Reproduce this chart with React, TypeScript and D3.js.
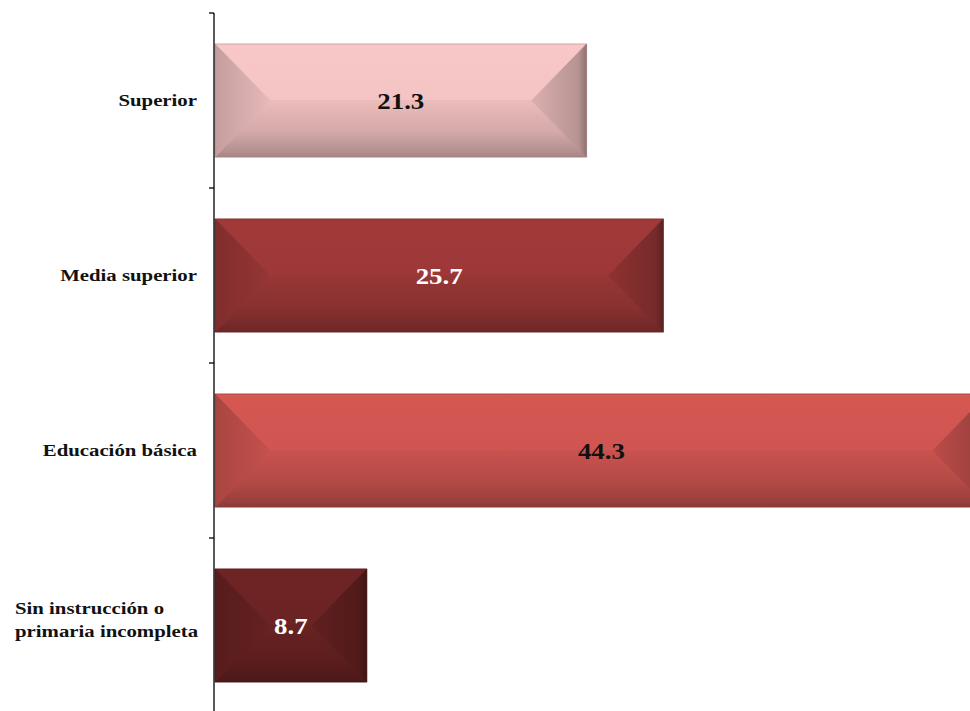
import React from "react";
import * as d3 from "d3";

const categories = [
  "Superior",
  "Media superior",
  "Educación básica",
  "Sin instrucción o primaria incompleta",
];
const categoryLines = [
  ["Superior"],
  ["Media superior"],
  ["Educación básica"],
  ["Sin instrucción o", "primaria incompleta"],
];
const values = [21.3, 25.7, 44.3, 8.7];

const barColors = ["#f4c3c3", "#9e3838", "#d05551", "#6c2323"];
const valueColors = ["#111111", "#ffffff", "#111111", "#ffffff"];

const W = 970;
const H = 711;
const FONT = "'Liberation Serif', 'Times New Roman', serif";
const SX = 1.3; // horizontal stretch of category text seen in the reference
const SXV = 1.12; // horizontal stretch of value text

export default function App() {
  const x = d3.scaleLinear().domain([0, 45]).range([215, 1000]);
  const y = d3
    .scaleBand<string>()
    .domain(categories)
    .range([13, 713])
    .paddingInner(0.354)
    .paddingOuter(0.177);
  const step = y.step();
  const axisX = 214;
  const tickYs = d3.range(categories.length + 1).map((i) => y.range()[0] + i * step);

  return (
    <svg
      width={W}
      height={H}
      style={{ position: "absolute", left: 0, top: 0, background: "#ffffff" }}
      fontFamily={FONT}
    >
      <defs>
        {categories.map((c, i) => {
          const base = d3.color(barColors[i])!;
          const dk = (k: number) => d3.color(barColors[i])!.darker(k).formatHex();
          return (
            <g key={c}>
              <linearGradient id={`top${i}`} x1="0" y1="0" x2="0" y2="1">
                <stop offset="0" stopColor={d3.color(barColors[i])!.brighter(0.05).formatHex()} />
                <stop offset="1" stopColor={base.formatHex()} />
              </linearGradient>
              <linearGradient id={`bot${i}`} x1="0" y1="0" x2="0" y2="1">
                <stop offset="0" stopColor={dk(0.1)} />
                <stop offset="0.55" stopColor={dk(0.4)} />
                <stop offset="0.9" stopColor={dk(0.85)} />
                <stop offset="1" stopColor={dk(1.1)} />
              </linearGradient>
              <linearGradient id={`left${i}`} x1="0" y1="0" x2="1" y2="0">
                <stop offset="0" stopColor={dk(0.6)} />
                <stop offset="1" stopColor={dk(0.15)} />
              </linearGradient>
              <linearGradient id={`right${i}`} x1="0" y1="0" x2="1" y2="0">
                <stop offset="0" stopColor={dk(0.3)} />
                <stop offset="0.85" stopColor={dk(0.8)} />
                <stop offset="1" stopColor={dk(1.5)} />
              </linearGradient>
            </g>
          );
        })}
      </defs>

      {categories.map((c, i) => {
        const x0 = x(0);
        const x1 = x(values[i]);
        const y0 = y(c)!;
        const y1 = y0 + y.bandwidth();
        const mid = (y0 + y1) / 2;
        const b = Math.min(55, (x1 - x0) / 2);
        const pts = (p: number[][]) => p.map((q) => q.join(",")).join(" ");
        const faces: [number[][], string][] = [
          [[[x0, y0], [x1, y0], [x1 - b, mid], [x0 + b, mid]], `url(#top${i})`],
          [[[x0 + b, mid], [x1 - b, mid], [x1, y1], [x0, y1]], `url(#bot${i})`],
          [[[x0, y0], [x0 + b, mid], [x0, y1]], `url(#left${i})`],
          [[[x1, y0], [x1 - b, mid], [x1, y1]], `url(#right${i})`],
        ];
        return (
          <g key={c}>
            <rect
              x={x0}
              y={y0}
              width={x1 - x0}
              height={y1 - y0}
              fill={d3.color(barColors[i])!.darker(0.25).formatHex()}
            />
            {faces.map(([p, f], k) => (
              <polygon key={k} points={pts(p)} fill={f} stroke={f} strokeWidth={0.6} strokeLinejoin="round" />
            ))}
            <rect
              x={x0}
              y={y0}
              width={x1 - x0}
              height={y1 - y0}
              fill="none"
              stroke={d3.color(barColors[i])!.darker(1.2).formatHex()}
              strokeOpacity={0.45}
              strokeWidth={1}
            />
            <text
              transform={`translate(${(x0 + x1) / 2},${mid + 8}) scale(${SXV},1)`}
              textAnchor="middle"
              fontWeight="bold"
              fontSize={24}
              fill={valueColors[i]}
            >
              {values[i].toFixed(1)}
            </text>
          </g>
        );
      })}

      {/* axis */}
      <line x1={axisX} x2={axisX} y1={tickYs[0]} y2={tickYs[tickYs.length - 1]} stroke="#000" strokeWidth={1.3} />
      {tickYs.map((ty, i) => (
        <line key={i} x1={axisX - 5} x2={axisX} y1={ty} y2={ty} stroke="#000" strokeWidth={1.3} />
      ))}

      {/* category labels */}
      {categories.map((c, i) => {
        const lines = categoryLines[i];
        const cy = y(c)! + y.bandwidth() / 2;
        if (lines.length === 1) {
          return (
            <text
              key={c}
              transform={`translate(197,${cy + 5.5}) scale(${SX},1)`}
              textAnchor="end"
              fontWeight="bold"
              fontSize={16}
              fill="#111"
            >
              {lines[0]}
            </text>
          );
        }
        return (
          <g key={c}>
            {lines.map((ln, j) => (
              <text
                key={ln}
                transform={`translate(15,${cy - 12 + j * 23}) scale(${SX},1)`}
                textAnchor="start"
                fontWeight="bold"
                fontSize={16}
                fill="#111"
              >
                {ln}
              </text>
            ))}
          </g>
        );
      })}
    </svg>
  );
}
